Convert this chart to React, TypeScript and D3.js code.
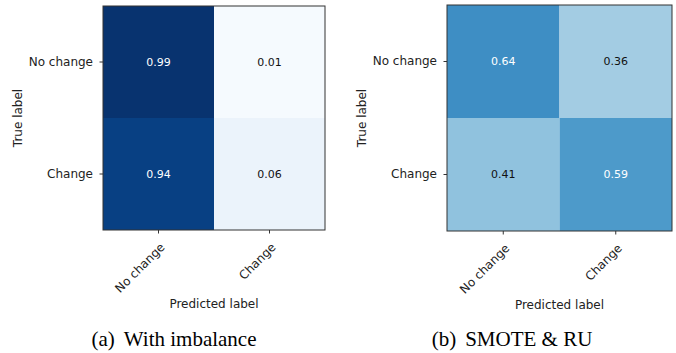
import React, { useEffect, useRef } from 'react'
import * as d3 from 'd3'

// class names shared by both matrices
const classLabels = ['No change', 'Change']

// normalized confusion matrices, rows = true label, cols = predicted label
const imbalanceValues = [
  [0.99, 0.01],
  [0.94, 0.06],
]
const smoteValues = [
  [0.64, 0.36],
  [0.41, 0.59],
]

const captions = ['(a)', '(b)']
const captionTexts = ['With imbalance', 'SMOTE & RU']

// matplotlib "Blues" colormap stops
const bluesStops = [
  '#f7fbff',
  '#deebf7',
  '#c6dbef',
  '#9ecae1',
  '#6baed6',
  '#4292c6',
  '#2171b5',
  '#08519c',
  '#08306b',
]

type Box = { x: number; y: number; w: number; h: number; capX: number }

const App = () => {
  const svgRef = useRef<SVGSVGElement | null>(null)

  useEffect(() => {
    const width = 676
    const height = 353
    const svg = d3.select(svgRef.current)
    svg.selectAll('*').remove()
    svg.attr('width', width).attr('height', height)

    const color = d3
      .scaleLinear<string>()
      .domain(bluesStops.map((_, i) => i / (bluesStops.length - 1)))
      .range(bluesStops)
      .interpolate(d3.interpolateRgb)
      .clamp(true)

    const sans = 'DejaVu Sans, Verdana, sans-serif'
    const serif = 'Liberation Serif, Times New Roman, serif'
    const ink = '#222'

    const boxes: Box[] = [
      { x: 103, y: 6, w: 222, h: 224, capX: 174 },
      { x: 447, y: 5, w: 225, h: 226, capX: 512 },
    ]
    const matrices = [imbalanceValues, smoteValues]

    matrices.forEach((values, p) => {
      const box = boxes[p]
      const g = svg.append('g').attr('transform', `translate(${box.x},${box.y})`)

      const xScale = d3.scaleBand<string>().domain(classLabels).range([0, box.w])
      const yScale = d3.scaleBand<string>().domain(classLabels).range([0, box.h])

      const cells = values.flatMap((row, i) =>
        row.map((v, j) => ({ v, row: classLabels[i], col: classLabels[j] }))
      )

      g.append('g')
        .selectAll('rect')
        .data(cells)
        .enter()
        .append('rect')
        .attr('x', (d) => xScale(d.col)!)
        .attr('y', (d) => yScale(d.row)!)
        .attr('width', xScale.bandwidth())
        .attr('height', yScale.bandwidth())
        .attr('fill', (d) => color(d.v))

      g.append('g')
        .selectAll('text')
        .data(cells)
        .enter()
        .append('text')
        .attr('x', (d) => xScale(d.col)! + xScale.bandwidth() / 2)
        .attr('y', (d) => yScale(d.row)! + yScale.bandwidth() / 2)
        .attr('dy', '0.36em')
        .attr('text-anchor', 'middle')
        .style('font-family', sans)
        .style('font-size', '11px')
        .style('fill', (d) => (d.v > 0.5 ? '#ffffff' : '#111'))
        .text((d) => d.v.toFixed(2))

      // border
      g.append('rect')
        .attr('x', 0)
        .attr('y', 0)
        .attr('width', box.w)
        .attr('height', box.h)
        .attr('fill', 'none')
        .attr('stroke', '#333')
        .attr('stroke-width', 1)

      const yAxis = g
        .append('g')
        .call(d3.axisLeft(yScale).tickSize(3.5).tickPadding(6.5))
      yAxis.select('.domain').remove()
      yAxis.selectAll('line').attr('stroke', '#333')
      yAxis
        .selectAll('text')
        .style('font-family', sans)
        .style('font-size', '12px')
        .style('fill', ink)

      const xAxis = g
        .append('g')
        .attr('transform', `translate(0,${box.h})`)
        .call(d3.axisBottom(xScale).tickSize(3.5))
      xAxis.select('.domain').remove()
      xAxis.selectAll('line').attr('stroke', '#333')
      xAxis
        .selectAll('text')
        .attr('x', 0)
        .attr('y', 0)
        .attr('dy', 0)
        .attr('text-anchor', 'end')
        .attr('transform', 'translate(7,18) rotate(-45)')
        .style('font-family', sans)
        .style('font-size', '12px')
        .style('fill', ink)

      g.append('text')
        .attr('transform', `translate(-81,${box.h / 2}) rotate(-90)`)
        .attr('text-anchor', 'middle')
        .style('font-family', sans)
        .style('font-size', '12px')
        .style('fill', ink)
        .text('True label')

      g.append('text')
        .attr('x', box.w / 2)
        .attr('y', box.h + 78)
        .attr('text-anchor', 'middle')
        .style('font-family', sans)
        .style('font-size', '12px')
        .style('fill', ink)
        .text('Predicted label')

      const cap = svg
        .append('text')
        .attr('x', box.capX)
        .attr('y', 346)
        .attr('text-anchor', 'middle')
        .style('font-family', serif)
        .style('font-size', '21px')
        .style('fill', '#000')
      cap.append('tspan').text(captions[p])
      cap.append('tspan').attr('dx', 9).text(captionTexts[p])
    })
  }, [])

  return (
    <svg
      ref={svgRef}
      style={{ position: 'absolute', left: 0, top: 0, background: '#fff' }}
    ></svg>
  )
}

export default App
